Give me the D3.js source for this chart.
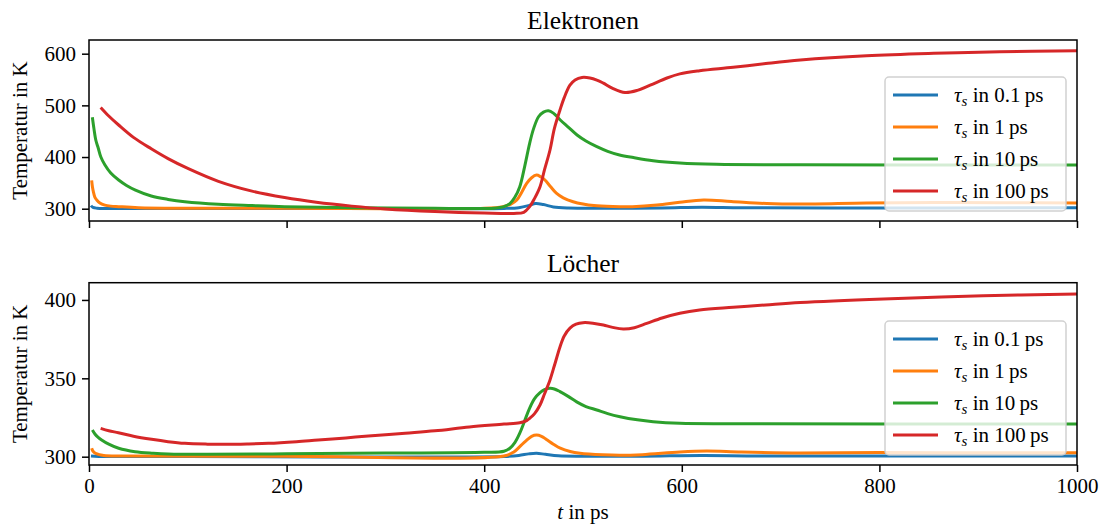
<!DOCTYPE html>
<html>
<head>
<meta charset="utf-8">
<script src="https://cdn.jsdelivr.net/npm/d3@7"></script>
<style>
  html, body { margin: 0; padding: 0; background: #fff; }
  svg { display: block; }
  text { font-family: "Liberation Serif", "DejaVu Serif", serif; fill: #000; }
</style>
</head>
<body>
<svg id="chart" width="1104" height="532"></svg>
<script>
// ---------------- DATA ----------------
const panelTitles = ["Elektronen", "Löcher"];
const seriesLabels = ["0.1", "1", "10", "100"];
const seriesColors = ["#1f77b4", "#ff7f0e", "#2ca02c", "#d62728"];
const xTicks = [0, 200, 400, 600, 800, 1000];
const yTicksElec = [300, 400, 500, 600];
const yTicksHole = [300, 350, 400];
const xLabel = "in ps";
const yLabel = "Temperatur in K";

// Elektronen: [t in ps, T in K]
const elec01 = [[2,306],[4,302.5],[8,301],[20,300.5],[100,300.3],[300,300.3],[420,300.5],[435,302],[445,306],[452,310],[460,308],[470,303.5],[485,301.5],[520,301],[580,301.5],[620,303],[660,302],[750,301.5],[1000,301.8]];
const elec1 = [[2.7,355],[3.5,342],[4.4,333],[6,322],[7.8,317],[11,311],[16,307],[22,305],[30,304],[50,302],[100,301],[200,300.8],[400,300.8],[419,304],[427,309],[433,317],[438,332],[443,349],[448,360],[453,365],[457,362],[461.5,355.5],[467,343],[473,330],[480,321],[490,313.5],[500,309],[511,306],[530,304.3],[550,304],[575,307],[598,312.5],[622,317],[650,314],[686,310],[720,309],[787,311],[855,312],[922,311.5],[1000,311]];
const elec10 = [[3.4,477],[5,455],[7,432],[9.4,417],[12,400],[16,385],[22,369],[30,355.5],[38,345],[47,336],[63,324.6],[80,318],[97,313.5],[131,308.5],[165,306],[198,304],[266,302],[350,301],[410,301],[420,304],[426,310],[431,322],[436,342.6],[441,382],[446,426.5],[450,455],[455,478],[460,487],[465,489.7],[470,485],[477,471.7],[485,458],[494,442.6],[503,431],[514,420],[525,411],[537,404],[551,399],[571,393],[598,388.5],[635,386],[720,385],[850,384.5],[1000,384.5]];
const elec100 = [[11.8,496],[20,479.5],[30,462],[45,438],[63,416],[80,397],[100,378],[131,353],[165,334],[198,321.5],[230,312.5],[266,305],[300,299.5],[350,294.5],[400,291.5],[430,290.8],[440,293],[446,304],[451,320],[456.5,342.6],[461,375],[466.6,413.6],[471,455],[476.7,491],[481,515],[486.8,539],[492,549],[499,554],[507,553],[514,549],[520.6,543],[530,533],[542.5,525],[555,529],[568,539],[585,553],[598,561],[618,567],[652,573.6],[685,581],[720,587.8],[787,596],[855,600.7],[922,603.8],[1000,605.8]];

// Löcher: [t in ps, T in K]
const hole01 = [[2,300.5],[10,300.2],[100,300.1],[420,300.2],[435,300.8],[445,301.8],[453,302.2],[462,301.5],[475,300.6],[500,300.3],[560,300.3],[620,300.8],[680,300.5],[1000,300.5]];
const hole1 = [[2.7,305.4],[4,303.5],[6,302.3],[9.4,301.5],[15,300.8],[30,300.4],[200,300.3],[420,300.5],[430,303],[436,306.4],[442,310],[448,313],[453,313.8],[458,313],[463,311],[470,308],[477,305.4],[487,303.3],[497,302.2],[520,301.2],[537,300.9],[560,301.3],[598,303],[625,303.6],[660,303],[720,302.4],[800,302.6],[900,302.5],[1000,302.5]];
const hole10 = [[3.4,317],[6,314.5],[9,312.5],[12.8,310.7],[20,308],[30,305.4],[46.6,303.2],[65,302.2],[80,301.7],[120,301.5],[200,301.8],[300,302.3],[400,302.8],[420,303.5],[426,305.4],[431,309],[436,315],[441,323],[446,331],[451,337],[456.5,340.8],[461,342.8],[466.6,343.6],[471,343.2],[476.7,341.5],[485,338.5],[493.6,335],[503,332],[514,329.8],[525,327.5],[537.5,325.5],[555,323.5],[571,322.3],[598,321.3],[650,321],[1000,320.9]];
const hole100 = [[11.8,318.1],[20,316.6],[29.7,315.3],[45,313.1],[63.4,311.1],[80,309.6],[97,308.5],[120,308],[137.7,307.9],[160,308.1],[181.5,308.5],[210,309.6],[232,310.7],[260,312],[282.7,313.2],[320,315],[350,316.5],[385,319],[420,320.8],[436,321.7],[443,323],[446,324.5],[451,327.5],[456.5,333],[461,340],[466.6,349],[471,358],[476.7,370],[481,377],[486.8,382],[493,384.5],[500,385.5],[510,385.2],[520.6,384],[530,382.5],[540.8,381.5],[552,382.3],[564.5,385],[580,388.5],[598,391.5],[618,393.6],[652,395.3],[685,396.8],[720,398.3],[804,400.6],[905,402.7],[1000,403.8]];

// ---------------- LAYOUT ----------------
const svg = d3.select("#chart");
const FONT = 21;
const axLeft = 89, axRight = 1077;
const panels = [
  { title: panelTitles[0], top: 40, bottom: 221, domain: [276.2, 626.5], yTicks: yTicksElec,
    series: [elec01, elec1, elec10, elec100], showX: false, titleY: 28.5 },
  { title: panelTitles[1], top: 282.7, bottom: 465, domain: [294.7, 411.0], yTicks: yTicksHole,
    series: [hole01, hole1, hole10, hole100], showX: true, titleY: 271.5 }
];

const x = d3.scaleLinear().domain([0, 1000]).range([axLeft, axRight]);

panels.forEach((p, pi) => {
  const y = d3.scaleLinear().domain(p.domain).range([p.bottom, p.top]);
  const g = svg.append("g");

  const clipId = "clip" + pi;
  svg.append("clipPath").attr("id", clipId)
    .append("rect").attr("x", axLeft).attr("y", p.top)
    .attr("width", axRight - axLeft).attr("height", p.bottom - p.top);

  // lines
  const line = d3.line().x(d => x(d[0])).y(d => y(d[1])).curve(d3.curveCatmullRom.alpha(0.5));
  p.series.forEach((s, i) => {
    g.append("path").attr("d", line(s))
      .attr("fill", "none").attr("stroke", seriesColors[i])
      .attr("stroke-width", 3).attr("stroke-linejoin", "round").attr("stroke-linecap", "butt")
      .attr("clip-path", `url(#${clipId})`);
  });

  // frame
  g.append("rect").attr("x", axLeft).attr("y", p.top)
    .attr("width", axRight - axLeft).attr("height", p.bottom - p.top)
    .attr("fill", "none").attr("stroke", "#000").attr("stroke-width", 1.5);

  // y axis
  const yAx = g.append("g").attr("transform", `translate(${axLeft},0)`)
    .call(d3.axisLeft(y).tickValues(p.yTicks).tickSize(7).tickPadding(6).tickFormat(d3.format("d")));
  yAx.select(".domain").remove();
  yAx.selectAll(".tick line").attr("stroke", "#000").attr("stroke-width", 1.5);
  yAx.selectAll(".tick text").attr("font-size", FONT)
    .attr("font-family", "Liberation Serif").attr("fill", "#000");

  // x axis
  const xAx = g.append("g").attr("transform", `translate(0,${p.bottom})`)
    .call(d3.axisBottom(x).tickValues(xTicks).tickSize(7).tickPadding(6)
      .tickFormat(p.showX ? d3.format("d") : () => ""));
  xAx.select(".domain").remove();
  xAx.selectAll(".tick line").attr("stroke", "#000").attr("stroke-width", 1.5);
  xAx.selectAll(".tick text").attr("font-size", FONT)
    .attr("font-family", "Liberation Serif").attr("fill", "#000");

  // title
  g.append("text").attr("x", (axLeft + axRight) / 2).attr("y", p.titleY)
    .attr("text-anchor", "middle").attr("font-size", 25.5).text(p.title);

  // y label
  g.append("text")
    .attr("transform", `translate(27,${(p.top + p.bottom) / 2}) rotate(-90)`)
    .attr("text-anchor", "middle").attr("font-size", FONT).text(yLabel);

  // legend (lower right)
  const lw = 181, lh = 134;
  const lx = axRight - 11 - lw, ly = p.bottom - 10 - lh;
  const lg = g.append("g");
  lg.append("rect").attr("x", lx).attr("y", ly).attr("width", lw).attr("height", lh)
    .attr("rx", 4).attr("ry", 4)
    .attr("fill", "#fff").attr("fill-opacity", 0.8)
    .attr("stroke", "#cccccc").attr("stroke-width", 1.5).attr("stroke-opacity", 0.9);
  seriesLabels.forEach((lab, i) => {
    const cy = ly + 18 + i * 32;
    lg.append("line").attr("x1", lx + 8).attr("x2", lx + 53)
      .attr("y1", cy).attr("y2", cy)
      .attr("stroke", seriesColors[i]).attr("stroke-width", 3);
    const t = lg.append("text").attr("x", lx + 69).attr("y", cy + 7).attr("font-size", FONT);
    t.append("tspan").attr("font-style", "italic").text("τ");
    t.append("tspan").attr("font-style", "italic").attr("font-size", 15).attr("dy", 4).text("s");
    t.append("tspan").attr("dy", -4).text(" in " + lab + "\u2009ps");
  });
});

// x label
const xl = svg.append("text").attr("x", (axLeft + axRight) / 2).attr("y", 519)
  .attr("text-anchor", "middle").attr("font-size", FONT);
xl.append("tspan").attr("font-style", "italic").text("t");
xl.append("tspan").text(" " + xLabel);
</script>
</body>
</html>
